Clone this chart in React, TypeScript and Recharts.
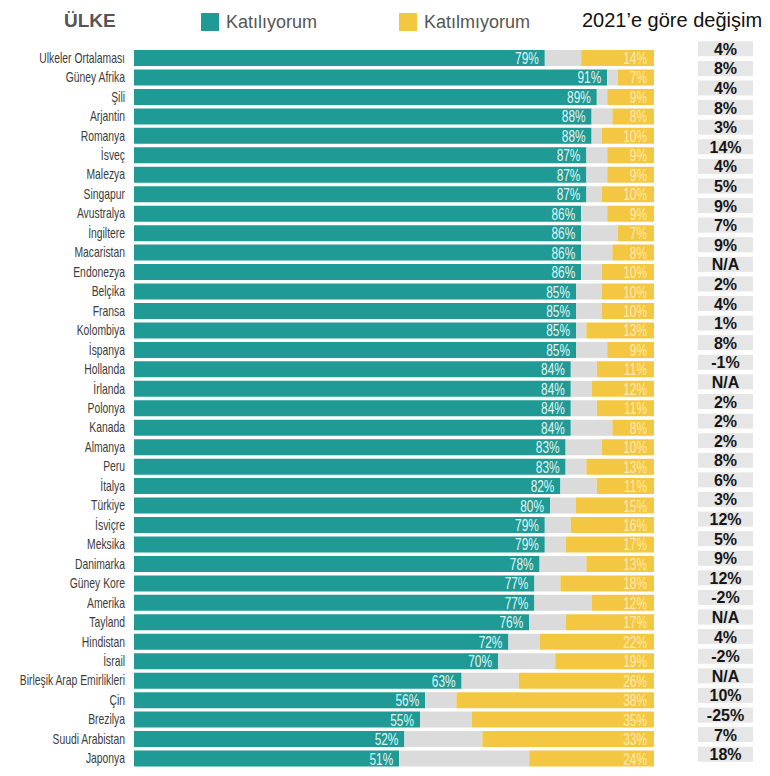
import { BarChart, Bar, XAxis, YAxis, LabelList } from 'recharts'

const countries = [
  'Ulkeler Ortalaması', 'Güney Afrika', 'Şili', 'Arjantin', 'Romanya', 'İsveç', 'Malezya',
  'Singapur', 'Avustralya', 'İngiltere', 'Macaristan', 'Endonezya', 'Belçika', 'Fransa',
  'Kolombiya', 'İspanya', 'Hollanda', 'İrlanda', 'Polonya', 'Kanada', 'Almanya', 'Peru',
  'İtalya', 'Türkiye', 'İsviçre', 'Meksika', 'Danimarka', 'Güney Kore', 'Amerika', 'Tayland',
  'Hindistan', 'İsrail', 'Birleşik Arap Emirlikleri', 'Çin', 'Brezilya', 'Suudi Arabistan', 'Japonya',
]

const agree = [
  79, 91, 89, 88, 88, 87, 87, 87, 86, 86, 86, 86, 85, 85, 85, 85, 84, 84, 84, 84, 83, 83,
  82, 80, 79, 79, 78, 77, 77, 76, 72, 70, 63, 56, 55, 52, 51,
]

const disagree = [
  14, 7, 9, 8, 10, 9, 9, 10, 9, 7, 8, 10, 10, 10, 13, 9, 11, 12, 11, 8, 10, 13,
  11, 15, 16, 17, 13, 18, 12, 17, 22, 19, 26, 38, 35, 33, 24,
]

const change = [
  '4%', '8%', '4%', '8%', '3%', '14%', '4%', '5%', '9%', '7%', '9%', 'N/A', '2%', '4%',
  '1%', '8%', '-1%', 'N/A', '2%', '2%', '2%', '8%', '6%', '3%', '12%', '5%', '9%', '12%',
  '-2%', 'N/A', '4%', '-2%', 'N/A', '10%', '-25%', '7%', '18%',
]

const data = countries.map((country, i) => ({
  country,
  agree: agree[i],
  neutral: 100 - agree[i] - disagree[i],
  disagree: disagree[i],
}))

const TEAL = '#1f9a95'
const YELLOW = '#f4c743'
const GREY = '#dbdbdb'
const SANS = '"Liberation Sans", Arial, sans-serif'

// the source uses a condensed face; squeeze Liberation Sans horizontally
function NarrowText({ x, y, size, fill, squeeze, children }: any) {
  return (
    <text
      transform={`translate(${x},${y}) scale(${squeeze},1)`}
      textAnchor="end"
      fontSize={size}
      fill={fill}
      fontFamily={SANS}
    >
      {children}
    </text>
  )
}

function CountryTick(props: any) {
  const { x, y, payload } = props
  return (
    <NarrowText x={x - 1} y={y + 5} size={14} fill="#3c3c3c" squeeze={0.74}>
      {payload.value}
    </NarrowText>
  )
}

function ChangeTick(props: any) {
  const { x, y, index } = props
  return (
    <g>
      <rect x={x + 36} y={y - 7.5} width={55} height={15} fill="#e6e6e6" />
      <text x={x + 63.5} y={y} dy={6} textAnchor="middle" fontSize={16} fontWeight="bold" fill="#161616" fontFamily={SANS}>
        {change[index]}
      </text>
    </g>
  )
}

function AgreeLabel(props: any) {
  const { x, y, width, height, value } = props
  return (
    <NarrowText x={x + width - 6} y={y + height / 2 + 6} size={16.5} fill="#e3f4f2" squeeze={0.72}>
      {value}%
    </NarrowText>
  )
}

function DisagreeLabel(props: any) {
  const { x, y, width, height, value } = props
  return (
    <NarrowText x={x + width - 7} y={y + height / 2 + 6} size={16.5} fill="#fdeab0" squeeze={0.72}>
      {value}%
    </NarrowText>
  )
}

export default function App() {
  return (
    <div style={{ position: 'absolute', left: 0, top: 0, width: 770, height: 776, background: '#fff' }}>
      <div style={{ position: 'absolute', left: 64, top: 10, fontFamily: SANS, fontWeight: 'bold', fontSize: 19, color: '#555' }}>
        ÜLKE
      </div>
      <div style={{ position: 'absolute', left: 201, top: 13, width: 18, height: 18, background: TEAL }} />
      <div style={{ position: 'absolute', left: 226, top: 12, fontFamily: SANS, fontSize: 18, color: '#555' }}>
        Katılıyorum
      </div>
      <div style={{ position: 'absolute', left: 399, top: 13, width: 18, height: 18, background: YELLOW }} />
      <div style={{ position: 'absolute', left: 424, top: 12, fontFamily: SANS, fontSize: 18, color: '#555' }}>
        Katılmıyorum
      </div>
      <div style={{ position: 'absolute', left: 582, top: 9, fontFamily: SANS, fontSize: 20, color: '#111' }}>
        2021’e göre değişim
      </div>
      <BarChart
        width={770}
        height={776}
        data={data}
        layout="vertical"
        barSize={16}
        margin={{ top: 48, right: 0, bottom: 8, left: 0 }}
      >
        <XAxis type="number" domain={[0, 100]} hide />
        <YAxis
          yAxisId="left"
          type="category"
          dataKey="country"
          width={134}
          axisLine={false}
          tickLine={false}
          interval={0}
          tick={<CountryTick />}
        />
        <YAxis
          yAxisId="right"
          orientation="right"
          type="category"
          dataKey="country"
          width={116}
          axisLine={false}
          tickLine={false}
          interval={0}
          padding={{ top: -9, bottom: 4 }}
          tick={<ChangeTick />}
        />
        <Bar yAxisId="left" dataKey="agree" stackId="s" fill={TEAL} isAnimationActive={false}>
          <LabelList dataKey="agree" content={<AgreeLabel />} />
        </Bar>
        <Bar yAxisId="left" dataKey="neutral" stackId="s" fill={GREY} isAnimationActive={false} />
        <Bar yAxisId="left" dataKey="disagree" stackId="s" fill={YELLOW} isAnimationActive={false}>
          <LabelList dataKey="disagree" content={<DisagreeLabel />} />
        </Bar>
      </BarChart>
    </div>
  )
}
